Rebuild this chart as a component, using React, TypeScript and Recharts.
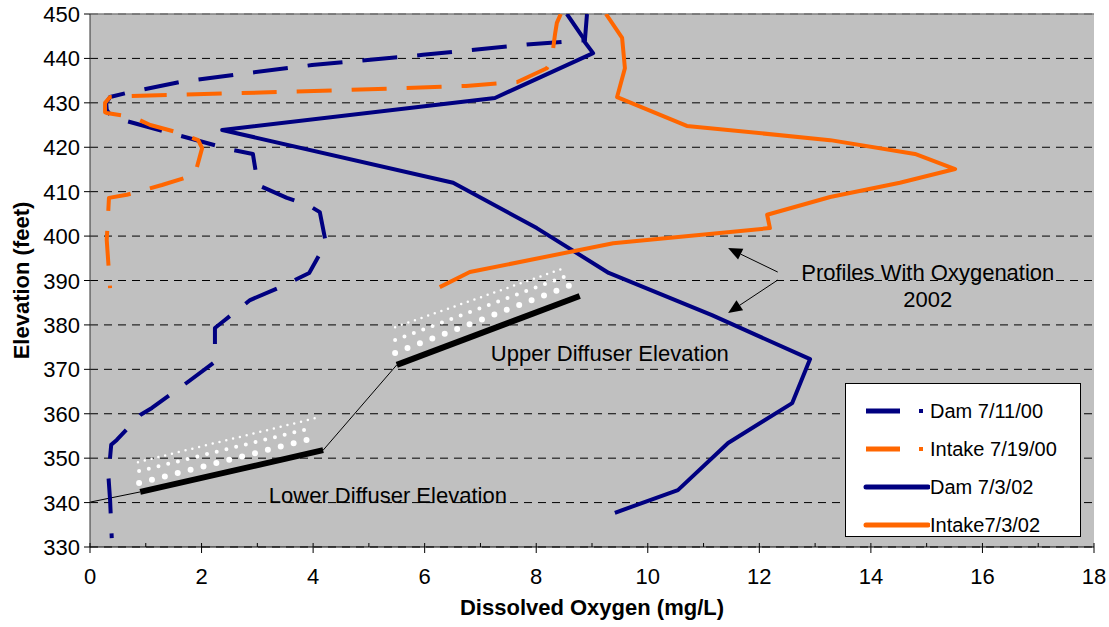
import React from 'react';
import {
  LineChart,
  Line,
  XAxis,
  YAxis,
  CartesianGrid,
  Legend,
  ReferenceLine,
  ReferenceDot,
} from 'recharts';

// Dissolved oxygen (mg/L) vs elevation (feet)
const dam0711DO = [8.55, 8.87, 7.89, 5.97, 3.98, 2.58, 1.61, 0.65, 0.36, 0.29, 0.3, 0.39, 2.55, 2.92, 3.01, 3.53, 3.91, 4.12, 4.23, 3.93, 3.41, 2.87, 2.38, 2.24, 2.24, 1.76, 1.11, 0.9, 0.48, 0.38, 0.33, 0.36, 0.39];
const dam0711Elev = [450, 444.1, 443.2, 440.8, 438.5, 436.3, 434.7, 432.2, 431.3, 430.0, 428.4, 426.8, 419.4, 418.5, 411.5, 408.6, 407.0, 405.4, 398.4, 391.7, 388.5, 385.6, 380.7, 379.3, 371.7, 367.2, 361.3, 359.7, 354.1, 353.0, 346.0, 340.6, 332.0];

const intake0719DO = [8.44, 8.37, 8.34, 8.3, 8.25, 8.19, 7.66, 6.74, 4.63, 2.71, 0.65, 0.36, 0.27, 0.27, 0.3, 0.77, 1.08, 1.61, 1.94, 2.01, 1.88, 1.29, 0.66, 0.34, 0.3, 0.36];
const intake0719Elev = [450, 448.0, 445.7, 441.9, 439.0, 437.8, 434.7, 433.8, 432.9, 432.2, 431.5, 431.3, 430.0, 427.9, 427.7, 426.8, 425.0, 423.2, 421.6, 419.8, 413.8, 411.5, 409.3, 408.6, 399.1, 388.3];

const dam0302DO = [8.91, 8.87, 9.02, 7.26, 2.37, 6.51, 8.01, 9.3, 11.15, 12.91, 12.59, 11.44, 10.54, 9.41];
const dam0302Elev = [450, 443.7, 441.2, 431.1, 423.9, 412.0, 401.8, 391.7, 382.2, 372.3, 362.4, 353.4, 342.8, 337.7];

const intake0302DO = [9.25, 9.54, 9.59, 9.45, 10.7, 13.27, 14.79, 15.51, 14.52, 13.27, 12.14, 12.19, 9.38, 6.81, 6.27];
const intake0302Elev = [450, 444.6, 437.8, 431.3, 424.8, 421.6, 418.5, 415.1, 412.0, 408.8, 404.8, 401.8, 398.4, 391.9, 388.5];

const xTicks = [0, 1, 2, 3, 4, 5, 6, 7, 8, 9, 10, 11, 12, 13, 14, 15, 16, 17, 18];
const yTicks = [330, 340, 350, 360, 370, 380, 390, 400, 410, 420, 430, 440, 450];

const toPoints = (xs: number[], ys: number[]) => xs.map((v, i) => ({ do: v, elev: ys[i] }));

const NAVY = '#000080';
const ORANGE = '#FF6600';
const FONT = '"Liberation Sans", Arial, sans-serif';

const series = [
  { name: 'Dam 7/11/00', data: toPoints(dam0711DO, dam0711Elev), color: NAVY, dash: '35 20' },
  { name: 'Intake 7/19/00', data: toPoints(intake0719DO, intake0719Elev), color: ORANGE, dash: '35 20' },
  { name: 'Dam 7/3/02', data: toPoints(dam0302DO, dam0302Elev), color: NAVY, dash: undefined },
  { name: 'Intake7/3/02', data: toPoints(intake0302DO, intake0302Elev), color: ORANGE, dash: undefined },
];

const XTick = (props: any) => {
  const { x, y, payload } = props;
  const even = payload.value % 2 === 0;
  return (
    <g>
      <line x1={x} x2={x} y1={y - 4} y2={y + (even ? 6 : 0)} stroke="#000" />
      {even && (
        <text x={x} y={y + 37} textAnchor="middle" fontSize={22} fill="#000" fontFamily={FONT}>
          {payload.value}
        </text>
      )}
    </g>
  );
};

const YTick = (props: any) => {
  const { x, y, payload } = props;
  return (
    <g>
      <line x1={x - 6} x2={x} y1={y} y2={y} stroke="#000" />
      <text x={x - 10} y={y + 8} textAnchor="end" fontSize={22} fill="#000" fontFamily={FONT}>
        {payload.value}
      </text>
    </g>
  );
};

const Arrow = (props: any) => {
  const { x1, y1, x2, y2 } = props;
  const a = Math.atan2(y2 - y1, x2 - x1);
  const len = 14;
  const hw = 6;
  const bx = x2 - len * Math.cos(a);
  const by = y2 - len * Math.sin(a);
  const px = -Math.sin(a) * hw;
  const py = Math.cos(a) * hw;
  return (
    <g>
      <line x1={x1} y1={y1} x2={bx} y2={by} stroke="#000" strokeWidth={1} />
      <polygon points={`${x2},${y2} ${bx + px},${by + py} ${bx - px},${by - py}`} fill="#000" />
    </g>
  );
};

const textShape = (value: string) => (props: any) => (
  <text x={props.cx} y={props.cy + 8} textAnchor="middle" fontSize={22} fill="#000" fontFamily={FONT}>
    {value}
  </text>
);

const renderLegend = () => (
  <div
    style={{
      background: '#fff',
      border: '1px solid #000',
      width: 236,
      height: 154,
      boxSizing: 'border-box',
      paddingTop: 8,
      fontFamily: FONT,
      fontSize: 20,
    }}
  >
    {series.map((s) => (
      <div key={s.name} style={{ display: 'flex', alignItems: 'center', height: 38 }}>
        <svg width={84} height={20} style={{ flex: 'none' }}>
          {s.dash ? (
            <g>
              <line x1={20} x2={54} y1={10} y2={10} stroke={s.color} strokeWidth={5} />
              <rect x={73} y={8} width={4} height={4} fill={s.color} />
            </g>
          ) : (
            <line x1={20} x2={82} y1={10} y2={10} stroke={s.color} strokeWidth={5} strokeLinecap="round" />
          )}
        </svg>
        <span style={{ color: '#000' }}>{s.name}</span>
      </div>
    ))}
  </div>
);

export default function App() {
  return (
    <div style={{ position: 'absolute', left: 0, top: 0, width: 1109, height: 627, background: '#fff', fontFamily: FONT }}>
      <LineChart width={1109} height={627} margin={{ top: 14, right: 15, bottom: 20, left: 0 }}>
        <CartesianGrid vertical={false} fill="#C0C0C0" stroke="#000" strokeDasharray="8 6" />
        <XAxis
          type="number"
          dataKey="do"
          domain={[0, 18]}
          ticks={xTicks}
          interval={0}
          height={60}
          tickSize={0}
          tickMargin={0}
          tickLine={false}
          tick={<XTick />}
          stroke="#000"
          allowDataOverflow
          label={{
            content: (p: any) => (
              <text
                x={p.viewBox.x + p.viewBox.width / 2}
                y={p.viewBox.y + 68}
                textAnchor="middle"
                fontSize={22}
                fontWeight="bold"
                fontFamily={FONT}
                fill="#000"
              >
                Dissolved Oxygen (mg/L)
              </text>
            ),
          }}
        />
        <YAxis
          type="number"
          dataKey="elev"
          domain={[330, 450]}
          ticks={yTicks}
          interval={0}
          width={90}
          tickSize={0}
          tickMargin={0}
          tickLine={false}
          tick={<YTick />}
          stroke="#333"
          allowDataOverflow
          label={{
            content: (p: any) => {
              const cx = 21;
              const cy = p.viewBox.y + p.viewBox.height / 2;
              return (
                <text
                  x={cx}
                  y={cy}
                  transform={`rotate(-90 ${cx} ${cy})`}
                  textAnchor="middle"
                  dominantBaseline="central"
                  fontSize={22}
                  fontWeight="bold"
                  fontFamily={FONT}
                  fill="#000"
                >
                  Elevation (feet)
                </text>
              );
            },
          }}
        />
        <ReferenceLine y={450} stroke="#808080" strokeWidth={1.5} />

        {/* diffuser bubbles */}
        <ReferenceLine segment={[{ x: 0.88, y: 344.4 }, { x: 4.0, y: 354.5 }]} stroke="#fff" strokeWidth={6} strokeDasharray="0 13.3" strokeLinecap="round" />
        <ReferenceLine segment={[{ x: 0.88, y: 347.1 }, { x: 3.98, y: 356.8 }]} stroke="#fff" strokeWidth={4} strokeDasharray="0 10" strokeLinecap="round" />
        <ReferenceLine segment={[{ x: 0.86, y: 349.1 }, { x: 4.07, y: 359.1 }]} stroke="#fff" strokeWidth={2.5} strokeDasharray="0 7" strokeLinecap="round" />
        <ReferenceLine segment={[{ x: 5.47, y: 373.7 }, { x: 8.71, y: 389.4 }]} stroke="#fff" strokeWidth={6} strokeDasharray="0 13.3" strokeLinecap="round" />
        <ReferenceLine segment={[{ x: 5.47, y: 376.6 }, { x: 8.64, y: 391.5 }]} stroke="#fff" strokeWidth={4} strokeDasharray="0 10" strokeLinecap="round" />
        <ReferenceLine segment={[{ x: 5.47, y: 379.5 }, { x: 8.55, y: 393.0 }]} stroke="#fff" strokeWidth={2.5} strokeDasharray="0 7" strokeLinecap="round" />

        {/* diffuser elevations */}
        <ReferenceLine segment={[{ x: 0, y: 340.1 }, { x: 0.9, y: 342.4 }]} stroke="#000" strokeWidth={1} ifOverflow="visible" />
        <ReferenceLine segment={[{ x: 0.9, y: 342.4 }, { x: 4.18, y: 351.8 }]} stroke="#000" strokeWidth={6} />
        <ReferenceLine segment={[{ x: 4.18, y: 351.8 }, { x: 5.5, y: 371.0 }]} stroke="#000" strokeWidth={1} />
        <ReferenceLine segment={[{ x: 5.5, y: 371.0 }, { x: 8.78, y: 386.5 }]} stroke="#000" strokeWidth={6} />

        {/* arrows */}
        <ReferenceLine segment={[{ x: 12.33, y: 391.9 }, { x: 11.44, y: 397.3 }]} shape={Arrow} />
        <ReferenceLine segment={[{ x: 12.33, y: 390.1 }, { x: 11.44, y: 382.7 }]} shape={Arrow} />

        {series.map((s) => (
          <Line
            key={s.name}
            name={s.name}
            data={s.data}
            dataKey="elev"
            type="linear"
            stroke={s.color}
            strokeWidth={4}
            strokeDasharray={s.dash}
            strokeLinejoin="round"
            dot={false}
            activeDot={false}
            isAnimationActive={false}
          />
        ))}

        <ReferenceDot x={5.34} y={341.7} r={1} shape={textShape('Lower Diffuser Elevation')} />
        <ReferenceDot x={9.32} y={373.7} r={1} shape={textShape('Upper Diffuser Elevation')} />
        <ReferenceDot x={15.02} y={391.9} r={1} shape={textShape('Profiles With Oxygenation')} />
        <ReferenceDot x={15.02} y={385.8} r={1} shape={textShape('2002')} />

        <Legend
          layout="vertical"
          align="center"
          verticalAlign="middle"
          content={renderLegend}
          wrapperStyle={{ position: 'absolute', left: 845, top: 383, width: 236, height: 154, margin: 0 }}
        />
      </LineChart>
    </div>
  );
}
